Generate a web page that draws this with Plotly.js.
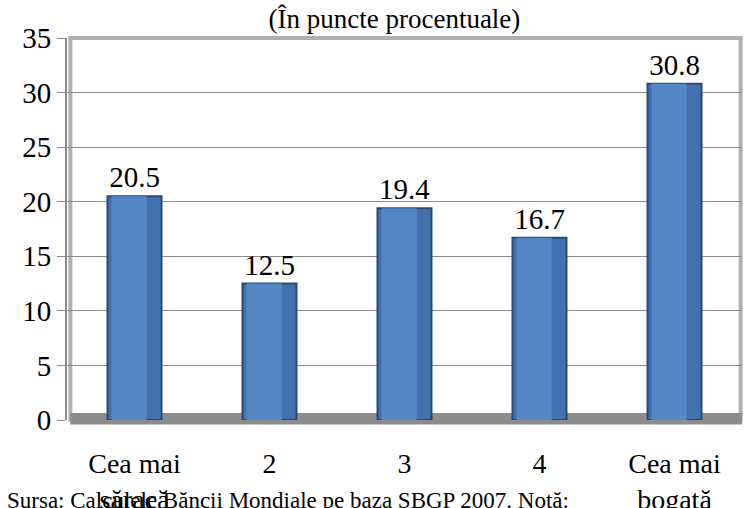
<!DOCTYPE html>
<html>
<head>
<meta charset="utf-8">
<script src="https://cdn.plot.ly/plotly-3.0.1.min.js"></script>
<style>html,body{margin:0;padding:0;background:#fff;}#chart{width:747px;height:508px;}</style>
</head>
<body>
<div id="chart"></div>
<script>
const categories = ["Cea mai<br>săracă", "2", "3", "4", "Cea mai<br>bogată"];
const values = [20.5, 12.5, 19.4, 16.7, 30.8];
const valueLabels = ["20.5", "12.5", "19.4", "16.7", "30.8"];
const yTicks = [0, 5, 10, 15, 20, 25, 30, 35];
const titleText = "(În puncte procentuale)";
const sourceText = "Sursa: Calculele Băncii Mondiale pe baza SBGP 2007. Notă:";

const serif = "Liberation Serif";

const data = [
  {
    type: "bar",
    x: categories,
    y: values,
    width: 0.4,
    text: valueLabels,
    textposition: "outside",
    cliponaxis: false,
    textfont: {family: serif, size: 29, color: "#000"},
    marker: {color: "#4271ad", line: {color: "#2b4a73", width: 2}},
    hoverinfo: "none"
  },
  {
    type: "bar",
    x: categories,
    y: values,
    width: 0.26,
    offset: -0.17,
    marker: {color: "#5587c7", line: {width: 0}},
    hoverinfo: "none"
  }
];

const layout = {
  width: 747, height: 508,
  margin: {l: 67, r: 5, t: 38, b: 88},
  paper_bgcolor: "#fff",
  plot_bgcolor: "#fff",
  showlegend: false,
  barmode: "overlay",
  font: {family: serif},
  title: {
    text: titleText,
    font: {family: serif, size: 27, color: "#000"},
    x: 0.528, xanchor: "center",
    y: 1, yref: "container", yanchor: "top", pad: {t: 9}
  },
  xaxis: {
    type: "category",
    range: [-0.5, 4.5],
    showgrid: false,
    showline: false,
    ticks: "",
    ticklabelstandoff: 24,
    tickfont: {family: serif, size: 28, color: "#000"},
    fixedrange: true
  },
  yaxis: {
    range: [0, 35],
    tickvals: yTicks,
    ticktext: yTicks.map(String),
    showgrid: true,
    gridcolor: "#8a8a8a",
    gridwidth: 1.2,
    zeroline: false,
    showline: true,
    linecolor: "#8a8a8a",
    linewidth: 2,
    ticks: "outside",
    ticklen: 8,
    tickcolor: "#8a8a8a",
    tickfont: {family: serif, size: 29, color: "#000"},
    fixedrange: true
  },
  shapes: [
    {type: "rect", xref: "paper", yref: "paper", x0: 0.005, x1: 0.998, y0: 0, y1: 1,
     line: {color: "#b0b0b0", width: 4}, fillcolor: "rgba(0,0,0,0)", layer: "below"},
    {type: "rect", xref: "paper", yref: "paper", x0: 0.005, x1: 1.0, y0: -0.012, y1: 0.018,
     line: {width: 0}, fillcolor: "#8c8c8c", layer: "below"}
  ],
  annotations: [{
    text: sourceText,
    xref: "paper", yref: "paper",
    x: -0.092, y: -0.212, xanchor: "left", yanchor: "middle",
    showarrow: false,
    font: {family: serif, size: 23, color: "#000"}
  }]
};

Plotly.newPlot("chart", data, layout, {displayModeBar: false, staticPlot: true});
</script>
</body>
</html>
